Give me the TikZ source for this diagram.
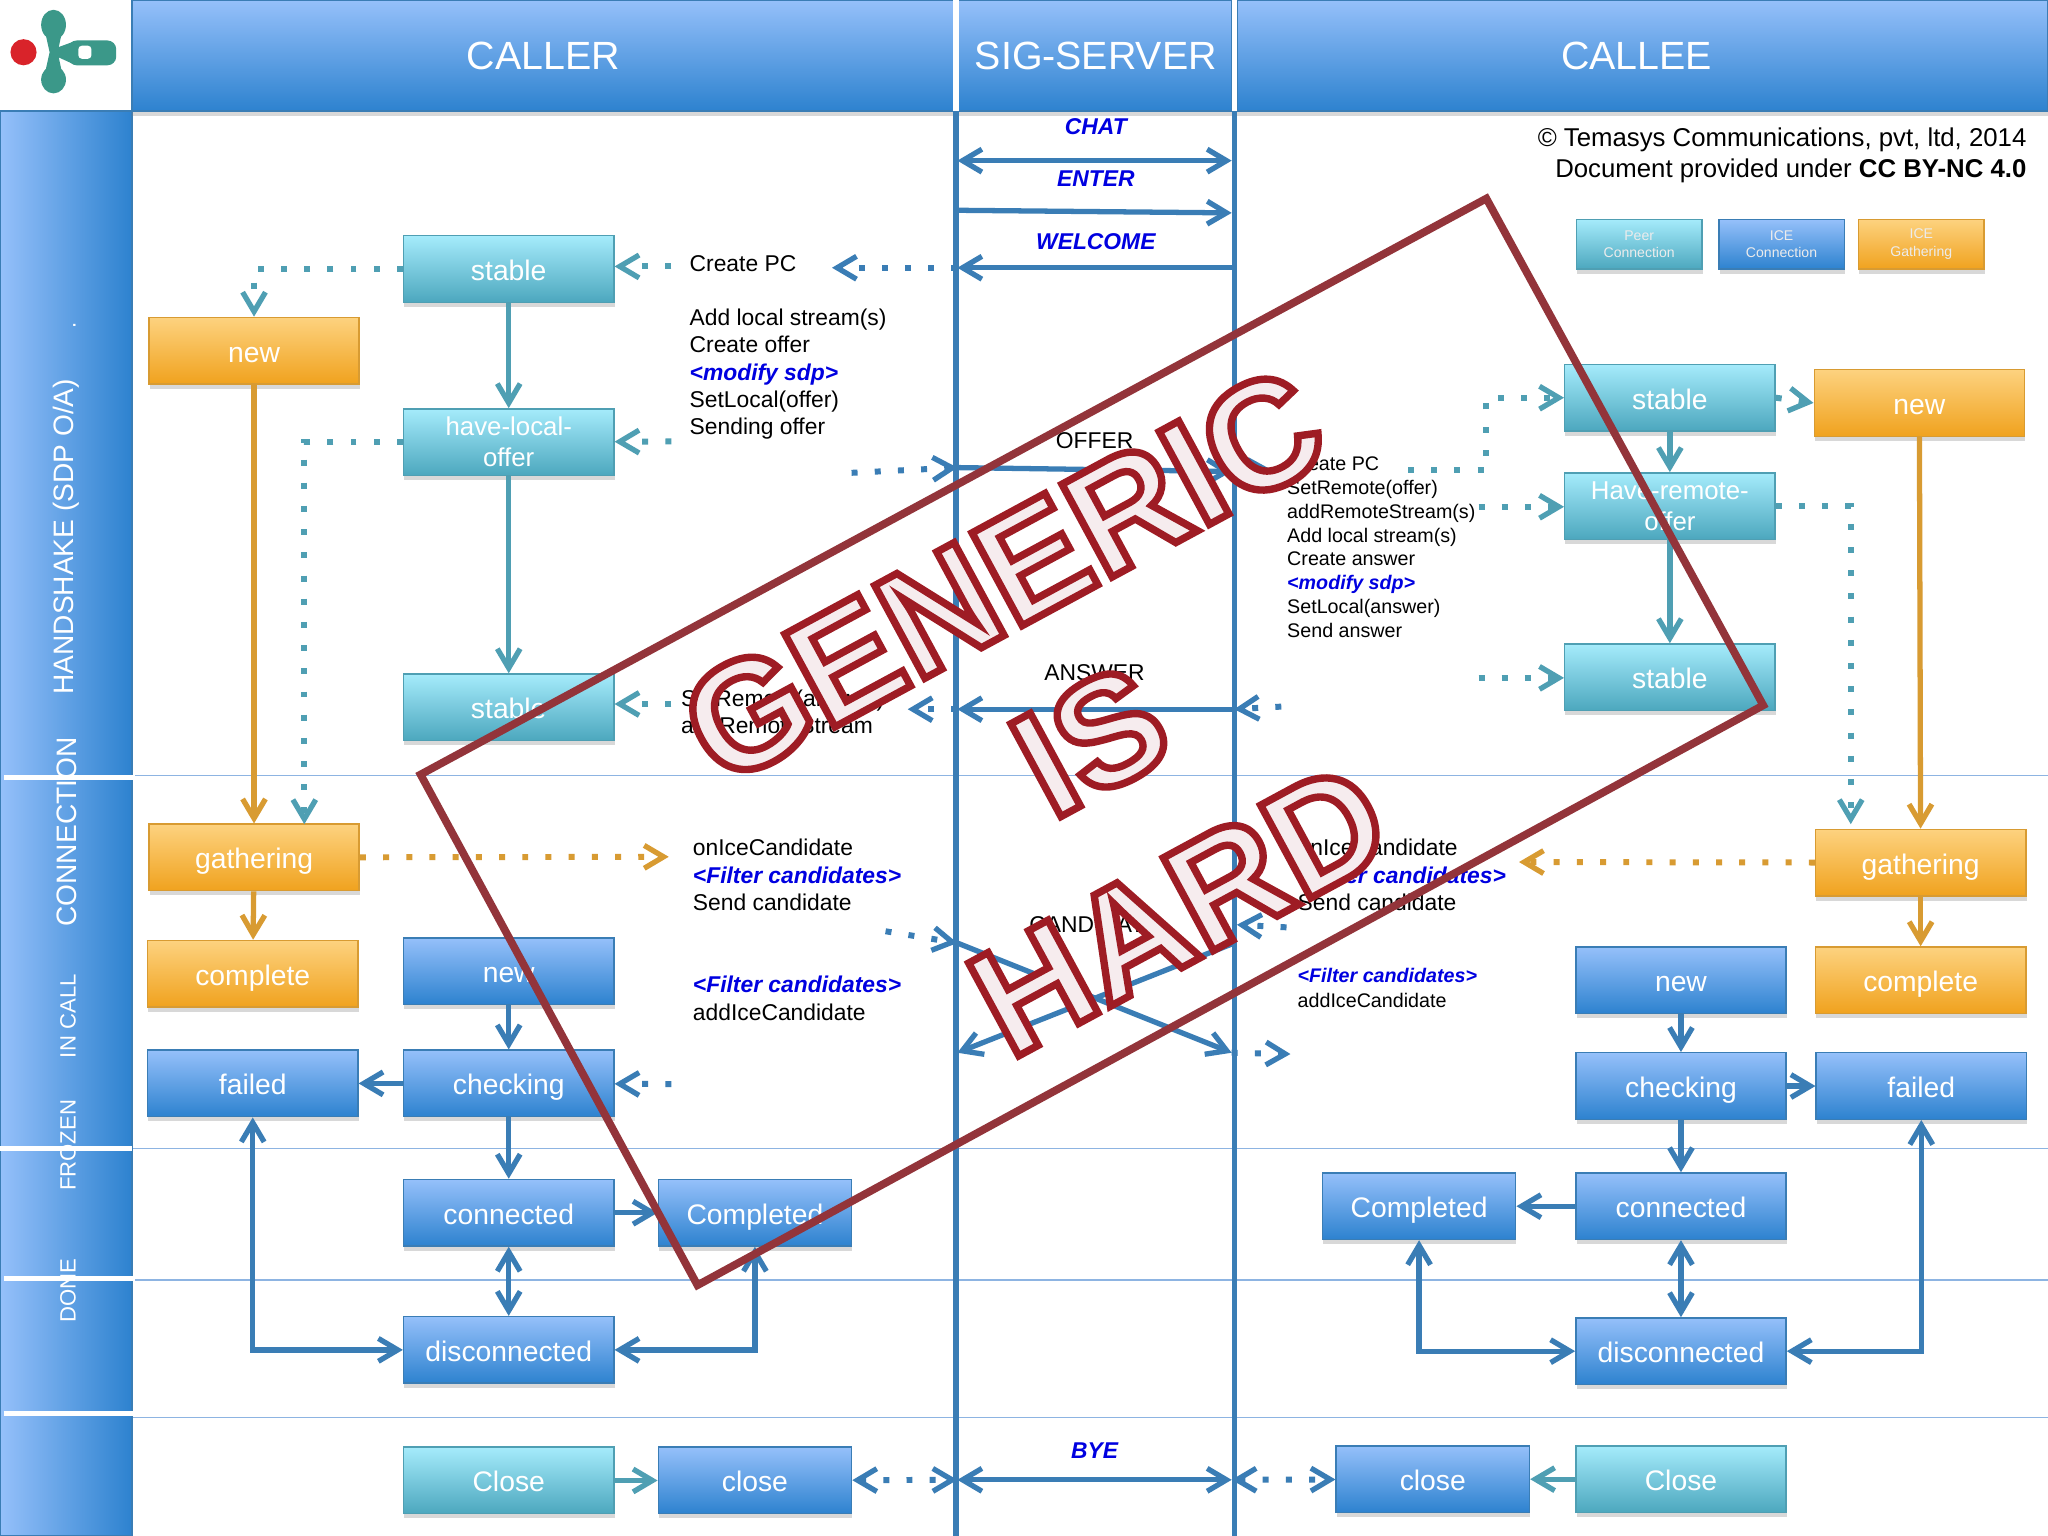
\documentclass[tikz,border=0pt]{standalone}
\usepackage{fontspec}
\setmainfont{Liberation Sans}
\usetikzlibrary{arrows.meta}
\usetikzlibrary{shadows}
\usetikzlibrary{calc}

\definecolor{tealline}{HTML}{4F9FB3}
\definecolor{tealtop}{HTML}{A5EBFB}
\definecolor{tealbottom}{HTML}{4CA7BE}
\definecolor{orangeline}{HTML}{D89B32}
\definecolor{orangetop}{HTML}{FDD27F}
\definecolor{orangebottom}{HTML}{F0A21E}
\definecolor{blueline}{HTML}{3A7DB5}
\definecolor{bluetop}{HTML}{95C0FA}
\definecolor{bluebottom}{HTML}{2D82CF}
\definecolor{stampline}{HTML}{93343A}
\definecolor{stampfill}{HTML}{F6ECEE}
\definecolor{logoteal}{HTML}{3B9889}
\definecolor{logored}{HTML}{D9232A}
\definecolor{filterblue}{HTML}{0000E0}
\definecolor{rowline}{HTML}{8DB4E2}

% outlined letters of the stamp
\newcommand{\stamptext}[1]{\special{pdf:code 2 Tr 2.1 w 0.62 0.11 0.14 RG}#1\special{pdf:code 0 Tr}}
\newcommand{\filter}[1]{{\color{filterblue}\bfseries\itshape #1}}

\tikzset{
  >={Straight Barb[length=5.5pt,width=6.5pt,line width=1.5pt]},
  statebox/.style={draw, inner sep=0pt, minimum width=2.103cm, minimum height=0.666cm, align=center,
    text=white, line width=0.4pt, font=\fontsize{8.05}{8.9}\selectfont,
    text height=0.8em, text depth=0.15em,
    drop shadow={shadow xshift=0.2pt, shadow yshift=-1.3pt, opacity=0.3}},
  twolines/.style={text height=, text depth=, font=\fontsize{7.35}{8.9}\selectfont},
  shortbox/.style={statebox, minimum width=1.933cm},
  legendbox/.style={statebox, text height=, text depth=, minimum width=1.254cm, minimum height=0.496cm,
    text=white!85!gray, font=\fontsize{4}{5}\selectfont},
  teal box/.style={draw=tealline, top color=tealtop, bottom color=tealbottom},
  orange box/.style={draw=orangeline, top color=orangetop, bottom color=orangebottom},
  blue box/.style={draw=blueline, top color=bluetop, bottom color=bluebottom},
  flow/.style={line width=1.5pt, ->},
  teal flow/.style={flow, tealline},
  orange flow/.style={flow, orangeline},
  blue flow/.style={flow, blueline},
  dots/.style={line width=1.7pt, dash pattern=on 1.7pt off 4.9pt},
  band/.style={draw=blueline, line width=0.4pt,
    drop shadow={shadow xshift=0pt, shadow yshift=-1.5pt, opacity=0.3}},
  head/.style={text=white, font=\fontsize{11.2}{13}\selectfont},
  side/.style={text=white, rotate=90, font=\fontsize{8}{10}\selectfont},
  sidesmall/.style={text=white, rotate=90, font=\fontsize{6.3}{8}\selectfont},
  msg/.style={font=\fontsize{6.5}{8}\selectfont},
  msgbold/.style={text=filterblue, font=\fontsize{6.5}{8}\selectfont\bfseries\itshape},
  note/.style={anchor=west, align=left, inner sep=0pt, font=\fontsize{6.5}{7.8}\selectfont},
  notesmall/.style={anchor=west, align=left, inner sep=0pt, font=\fontsize{5.6}{6.8}\selectfont},
  stamp/.style={text=stampfill, rotate=28.4, inner sep=0pt, font=\fontsize{43.6}{50}\selectfont\bfseries},
}

\begin{document}
\begin{tikzpicture}[x=0.01306cm,y=-0.01306cm]

  \useasboundingbox (0,0) rectangle (1568,1176);
  \fill[white] (0,0) rectangle (1568,1176);

  % Logo
  \fill[logored] (18,40) circle [radius=10];
  \fill[logoteal] (41,19) ellipse [x radius=9.5, y radius=11.5];
  \fill[logoteal] (41,61) ellipse [x radius=9.5, y radius=10.5];
  \fill[logoteal] (34,22) -- (48,22) -- (45,36) -- (56,32) -- (56,49) -- (45,44) -- (48,58) -- (34,58) -- (38,40) -- cycle;
  \fill[logoteal, rounded corners=2.5pt] (52,31) rectangle (89,50);
  \fill[white, rounded corners=1pt] (60,35) rectangle (70,45);

  % Row lines
  \foreach \rowy in {594,879,980,1085}
    \draw[rowline, line width=0.3pt] (101,\rowy) -- (1568,\rowy);

  % Bands
  \path[band, left color=bluetop, right color=bluebottom] (0,85) rectangle (101,1176);
  \path[band, top color=bluetop, bottom color=bluebottom] (101,0) rectangle (730,85);
  \path[band, top color=bluetop, bottom color=bluebottom] (734,0) rectangle (943,85);
  \path[band, top color=bluetop, bottom color=bluebottom] (947,0) rectangle (1568,85);

  \draw[white, line width=1.4pt] (3,595) -- (103,595);
  \draw[white, line width=1.4pt] (0,879) -- (101,879);
  \draw[white, line width=1.4pt] (3,979) -- (103,979);
  \draw[white, line width=1.4pt] (3,1082) -- (103,1082);

  \node[head] (caller) at (416,43) {CALLER};
  \node[head] (server) at (839,43) {SIG-SERVER};
  \node[head] (callee) at (1253,43) {CALLEE};

  \node[side] (handshake) at (51,411) {HANDSHAKE (SDP O/A)};
  \node[sidesmall] (dotmark) at (57,249) {.};
  \node[side] (connection) at (51,637) {CONNECTION};
  \node[sidesmall] (incall) at (52,778) {IN CALL};
  \node[sidesmall] (frozen) at (52,877) {FROZEN};
  \node[sidesmall] (done) at (52,988) {DONE};

  % Server lines
  \coordinate (serverLtop) at (732,85);
  \coordinate (serverLend) at (732,1176);
  \coordinate (serverRtop) at (945,85);
  \coordinate (serverRend) at (945,1176);
  \draw[blueline, line width=1.5pt] (serverLtop) -- (serverLend);
  \draw[blueline, line width=1.5pt] (serverRtop) -- (serverRend);
  \draw[white, line width=1.5pt] (732,0) -- (732,85);
  \draw[white, line width=1.5pt] (945,0) -- (945,85);

  % Messages
  \coordinate (chatL) at (733,123);    \coordinate (chatR) at (943,123);
  \coordinate (enterL) at (733,161);   \coordinate (enterR) at (943,163);
  \coordinate (welcomeL) at (733,205); \coordinate (welcomeR) at (945,205);
  \coordinate (offerL) at (733,358);   \coordinate (offerR) at (943,361);
  \coordinate (answerL) at (733,543);  \coordinate (answerR) at (945,543);
  \coordinate (candAL) at (733,722);   \coordinate (candAR) at (943,806);
  \coordinate (candBL) at (733,806);   \coordinate (candBR) at (945,722);
  \coordinate (byeL) at (733,1133);    \coordinate (byeR) at (943,1133);

  \draw[blue flow, <->] (chatL) -- (chatR);
  \draw[blue flow] (enterL) -- (enterR);
  \draw[blue flow] (welcomeR) -- (welcomeL);
  \draw[blue flow] (offerL) -- (offerR);
  \draw[blue flow] (answerR) -- (answerL);
  \draw[blue flow] (candAL) -- (candAR);
  \draw[blue flow] (candBR) -- (candBL);
  \draw[blue flow, <->] (byeL) -- (byeR);

  \node[msgbold] (chat) at (839,97) {CHAT};
  \node[msgbold] (enter) at (839,137) {ENTER};
  \node[msgbold] (welcome) at (839,185) {WELCOME};
  \node[msg] (offer) at (838,337) {OFFER};
  \node[msg] (answer) at (838,515) {ANSWER};
  \node[msg] (candidate) at (838,708) {CANDIDATE};
  \node[msgbold] (bye) at (838,1111) {BYE};

  % Copyright and legend
  \node[anchor=east, align=right, inner sep=0pt, font=\fontsize{7.33}{8.9}\selectfont] (copyright) at (1552,119)
    {© Temasys Communications, pvt, ltd, 2014\\Document provided under \textbf{CC BY-NC 4.0}};
  \node[legendbox, teal box] (legendPeer) at (1255,187) {Peer\\Connection};
  \node[legendbox, blue box] (legendIce) at (1364,187) {ICE\\Connection};
  \node[legendbox, orange box] (legendGather) at (1471,187) {ICE\\Gathering};

  % Caller states
  \node[statebox, teal box] (stableA) at (389.5,206) {stable};
  \node[statebox, orange box] (newA) at (194.5,268.5) {new};
  \node[statebox, teal box, twolines] (localA) at (389.5,338.5) {have-local-\\offer};
  \node[statebox, teal box] (stableB) at (389.5,541.5) {stable};
  \node[statebox, orange box] (gatherA) at (194.5,656.5) {gathering};
  \node[statebox, orange box] (completeA) at (193.5,745.5) {complete};
  \node[statebox, blue box] (iceNewA) at (389.5,743.5) {new};
  \node[statebox, blue box] (failedA) at (193.5,829.5) {failed};
  \node[statebox, blue box] (checkA) at (389.5,829.5) {checking};
  \node[statebox, blue box] (connectA) at (389.5,928.5) {connected};
  \node[shortbox, blue box] (doneA) at (578,928.5) {Completed};
  \node[statebox, blue box] (discoA) at (389.5,1033.5) {disconnected};
  \node[statebox, teal box] (closeA) at (389.5,1133.5) {Close};
  \node[shortbox, blue box] (iceCloseA) at (578,1133.5) {close};

  % Callee states
  \node[statebox, teal box] (stableC) at (1278.5,304.5) {stable};
  \node[statebox, orange box] (newB) at (1469.5,308.5) {new};
  \node[statebox, teal box, twolines] (remoteB) at (1278.5,387.5) {Have-remote-\\offer};
  \node[statebox, teal box] (stableD) at (1278.5,518.5) {stable};
  \node[statebox, orange box] (gatherB) at (1470.5,660.5) {gathering};
  \node[statebox, orange box] (completeB) at (1470.5,750.5) {complete};
  \node[statebox, blue box] (iceNewB) at (1287,750.5) {new};
  \node[statebox, blue box] (checkB) at (1287,831.5) {checking};
  \node[statebox, blue box] (failedB) at (1471,831.5) {failed};
  \node[statebox, blue box] (connectB) at (1287,923.5) {connected};
  \node[shortbox, blue box] (doneB) at (1086.5,923.5) {Completed};
  \node[statebox, blue box] (discoB) at (1287,1034.5) {disconnected};
  \node[statebox, teal box] (closeB) at (1287,1132.5) {Close};
  \node[shortbox, blue box] (iceCloseB) at (1097,1132.5) {close};

  % Caller notes
  \node[note] (notePc) at (527.5,202) {Create PC};
  \node[note] (noteOffer) at (527.5,286.5)
    {Add local stream(s)\\Create offer\\\filter{<modify sdp>}\\SetLocal(offer)\\Sending offer};
  \node[note] (noteAnswer) at (521,545) {SetRemote(answer)\\addRemoteStream};
  \node[note] (noteCand) at (530,670) {onIceCandidate\\\filter{<Filter candidates>}\\Send candidate};
  \node[note] (noteAdd) at (530,764.5) {\filter{<Filter candidates>}\\addIceCandidate};

  % Callee notes
  \node[notesmall] (noteRemote) at (985,419)
    {Create PC\\SetRemote(offer)\\addRemoteStream(s)\\Add local stream(s)\\Create answer\\\filter{<modify sdp>}\\SetLocal(answer)\\Send answer};
  \node[note] (noteCandR) at (993,670) {onIceCandidate\\\filter{<Filter candidates>}\\Send candidate};
  \node[notesmall, font=\fontsize{5.6}{7}\selectfont] (noteAddR) at (993,756.5) {\filter{<Filter candidates>}\\addIceCandidate};

  % Free ends of the dotted lines
  \coordinate (pcEnd) at (637,205);
  \coordinate (pcOut) at (514,204);
  \coordinate (offerOut) at (514,338);
  \coordinate (answerOut) at (514,539);
  \coordinate (answerEnd) at (695,543);
  \coordinate (offerStart) at (652,362);
  \coordinate (candStart) at (678,713);
  \coordinate (checkOut) at (514,830);
  \coordinate (gatherEnd) at (512,656);
  \coordinate (localEnd) at (233,631);
  \coordinate (answerOutR) at (981,541);
  \coordinate (candOutR) at (985,710);
  \coordinate (candInR) at (947,708);
  \coordinate (addEndR) at (988,807);
  \coordinate (offerEndR) at (974,360);
  \coordinate (pcStartR) at (1078,360);
  \coordinate (pcTurnR) at (1138,360);
  \coordinate (remoteStart) at (1132,388);
  \coordinate (sendStart) at (1132,519);
  \coordinate (gatherEndR) at (1163,660);
  \coordinate (remoteEnd) at (1417,631);

  % Caller flow
  \draw[teal flow] (stableA) -- (localA);
  \draw[teal flow] (localA) -- (stableB);
  \draw[orange flow] (newA) -- (gatherA);
  \draw[orange flow] (gatherA) -- (completeA);
  \draw[blue flow] (iceNewA) -- (checkA);
  \draw[blue flow] (checkA) -- (failedA);
  \draw[blue flow] (checkA) -- (connectA);
  \draw[blue flow] (connectA) -- (doneA);
  \draw[blue flow, <->] (connectA) -- (discoA);
  \draw[blue flow, <->] (failedA) |- (discoA);
  \draw[blue flow, <->] (doneA) |- (discoA);
  \draw[teal flow] (closeA) -- (iceCloseA);

  \draw[teal flow, dots] (stableA) -| (newA);
  \draw[teal flow, dots] (localA) -| (localEnd);
  \draw[teal flow, dots] (pcOut) -- (stableA.east |- pcOut);
  \draw[teal flow, dots] (offerOut) -- (localA);
  \draw[teal flow, dots] (answerOut) -- (stableB.east |- answerOut);
  \draw[blue flow, dots] (welcomeL) -- (pcEnd);
  \draw[blue flow, dots] (answerL) -- (answerEnd);
  \draw[blue flow, dots] (offerStart) -- (offerL);
  \draw[blue flow, dots] (candStart) -- (candAL);
  \draw[blue flow, dots] (checkOut) -- (checkA);
  \draw[orange flow, dots] (gatherA) -- (gatherEnd);
  \draw[blue flow, dots, <->] (iceCloseA) -- (byeL);

  % Callee flow
  \draw[teal flow] (stableC) -- (remoteB);
  \draw[teal flow] (remoteB) -- (stableD);
  \draw[orange flow] (newB) -- (gatherB);
  \draw[orange flow] (gatherB) -- (completeB);
  \draw[blue flow] (iceNewB) -- (checkB);
  \draw[blue flow] (checkB) -- (failedB);
  \draw[blue flow] (checkB) -- (connectB);
  \draw[blue flow] (connectB) -- (doneB);
  \draw[blue flow, <->] (connectB) -- (discoB);
  \draw[blue flow, <->] (failedB) |- (discoB);
  \draw[blue flow, <->] (doneB) |- (discoB);
  \draw[teal flow] (closeB) -- (iceCloseB);

  \draw[teal flow, dots] (pcStartR) -- (pcTurnR) |- (stableC.west);
  \draw[teal flow, dots] (stableC.east) -- (newB.west);
  \draw[teal flow, dots] (remoteStart) -- (remoteB.west |- remoteStart);
  \draw[teal flow, dots] (sendStart) -- (stableD.west |- sendStart);
  \draw[teal flow, dots] (remoteB) -| (remoteEnd);
  \draw[blue flow, dots] (offerR) -- (offerEndR);
  \draw[blue flow, dots] (answerOutR) -- (answerR);
  \draw[blue flow, dots] (candOutR) -- (candInR);
  \draw[blue flow, dots] (candAR) -- (addEndR);
  \draw[orange flow, dots] (gatherB) -- (gatherEndR);
  \draw[blue flow, dots, <->] (byeR) -- (iceCloseB);

  % Stamp
  \coordinate (stampA) at (322,593);
  \coordinate (stampB) at (1138,152);
  \coordinate (stampC) at (1350,540);
  \coordinate (stampD) at (534,984);
  \draw[stampline, line width=2.2pt] (stampA) -- (stampB) -- (stampC) -- (stampD) -- cycle;
  \node[stamp] (generic) at (768,441) {\stamptext{GENERIC}};
  \node[stamp] (is) at (835,567) {\stamptext{IS}};
  \node[stamp] (hard) at (903,696) {\stamptext{HARD}};

\end{tikzpicture}
\end{document}
